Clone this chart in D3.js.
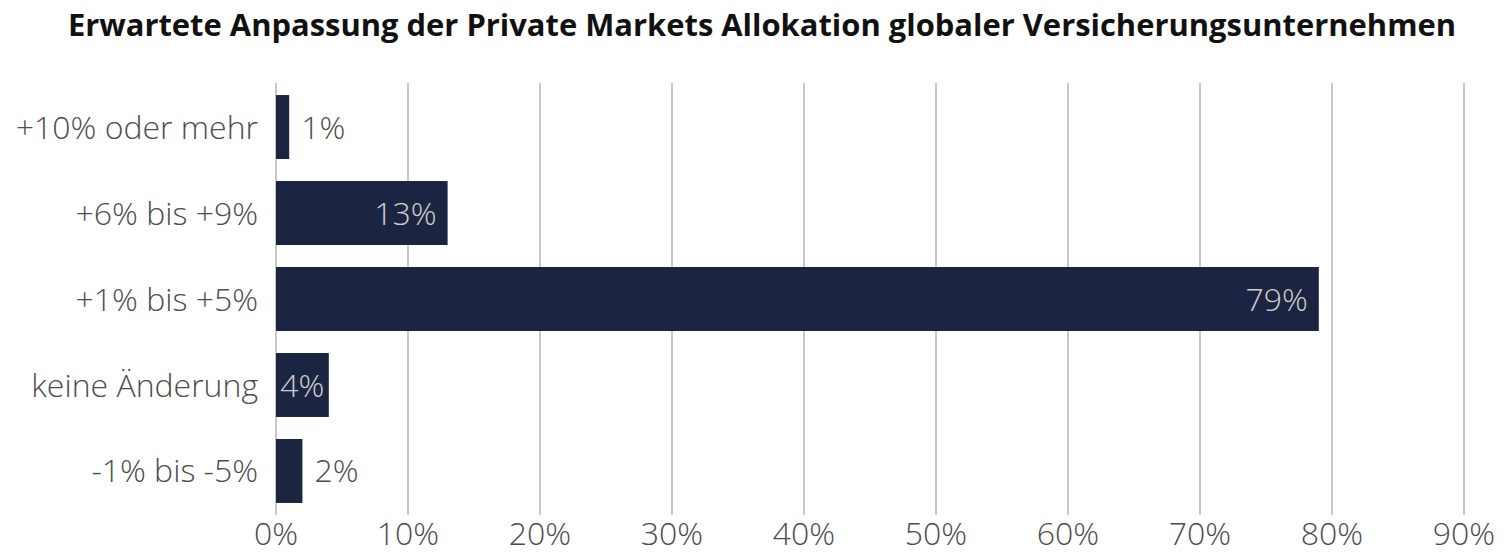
<!DOCTYPE html>
<html>
<head>
<meta charset="utf-8">
<script src="https://cdn.jsdelivr.net/npm/d3@7"></script>
<style>
  body { margin: 0; background: #fff; }
  text { font-family: "Open Sans", sans-serif; }
</style>
</head>
<body>
<div id="chart"></div>
<script>
const title = "Erwartete Anpassung der Private Markets Allokation globaler Versicherungsunternehmen";
const categories = ["+10% oder mehr", "+6% bis +9%", "+1% bis +5%", "keine Änderung", "-1% bis -5%"];
const values = [1, 13, 79, 4, 2];
const xTicks = [0, 10, 20, 30, 40, 50, 60, 70, 80, 90];

const width = 1504, height = 555;
const margin = { top: 83, right: 40, bottom: 40, left: 276 };
const fs = 32;

const svg = d3.select("#chart")
  .append("svg")
  .attr("width", width)
  .attr("height", height);

const x = d3.scaleLinear()
  .domain([0, 90])
  .range([margin.left, margin.left + 1188]);

const y = d3.scaleBand()
  .domain(categories)
  .range([margin.top, height - margin.bottom])
  .paddingInner(0.256)
  .paddingOuter(0.14);

// title, fitted to the width seen in the reference
const t = svg.append("text")
  .attr("x", 762)
  .attr("y", 36)
  .attr("text-anchor", "middle")
  .attr("font-size", 28)
  .attr("font-weight", 700)
  .attr("fill", "#111")
  .text(title);
const tw = t.node().getComputedTextLength();
t.attr("font-size", 28 * 1389 / tw);

// gridlines
svg.append("g")
  .selectAll("line")
  .data(xTicks)
  .enter()
  .append("line")
  .attr("x1", d => x(d))
  .attr("x2", d => x(d))
  .attr("y1", margin.top)
  .attr("y2", height - margin.bottom)
  .attr("stroke", "#c6c6c6")
  .attr("stroke-width", 2);

// x tick labels
svg.append("g")
  .selectAll("text")
  .data(xTicks)
  .enter()
  .append("text")
  .attr("x", d => x(d))
  .attr("y", 545)
  .attr("text-anchor", "middle")
  .attr("font-size", fs)
  .attr("font-weight", 300)
  .attr("fill", "#4d4d4d")
  .text(d => d + "%");

// category labels
svg.append("g")
  .selectAll("text")
  .data(categories)
  .enter()
  .append("text")
  .attr("x", margin.left - 18)
  .attr("y", d => y(d) + y.bandwidth() / 2)
  .attr("dy", "0.36em")
  .attr("text-anchor", "end")
  .attr("font-size", fs)
  .attr("font-weight", 300)
  .attr("fill", "#4d4d4d")
  .text(d => d);

// bars
const rows = categories.map((c, i) => ({ cat: c, val: values[i] }));

svg.append("g")
  .selectAll("rect")
  .data(rows)
  .enter()
  .append("rect")
  .attr("x", x(0))
  .attr("y", d => y(d.cat))
  .attr("width", d => x(d.val) - x(0))
  .attr("height", y.bandwidth())
  .attr("fill", "#1b2440");

// value labels: inside the bar end when they fit, else just outside
const vl = svg.append("g")
  .selectAll("text")
  .data(rows)
  .enter()
  .append("text")
  .attr("y", d => y(d.cat) + y.bandwidth() / 2)
  .attr("dy", "0.36em")
  .attr("font-size", fs)
  .attr("font-weight", 300)
  .text(d => d.val + "%");

vl.each(function(d) {
  const lw = this.getComputedTextLength();
  const bw = x(d.val) - x(0);
  const sel = d3.select(this);
  if (bw >= lw + 6) {
    const pad = Math.min(11, (bw - lw) / 2);
    sel.attr("x", x(d.val) - pad).attr("text-anchor", "end").attr("fill", "#cfcfcf");
  } else {
    sel.attr("x", x(d.val) + 12).attr("text-anchor", "start").attr("fill", "#4d4d4d");
  }
});
</script>
</body>
</html>
